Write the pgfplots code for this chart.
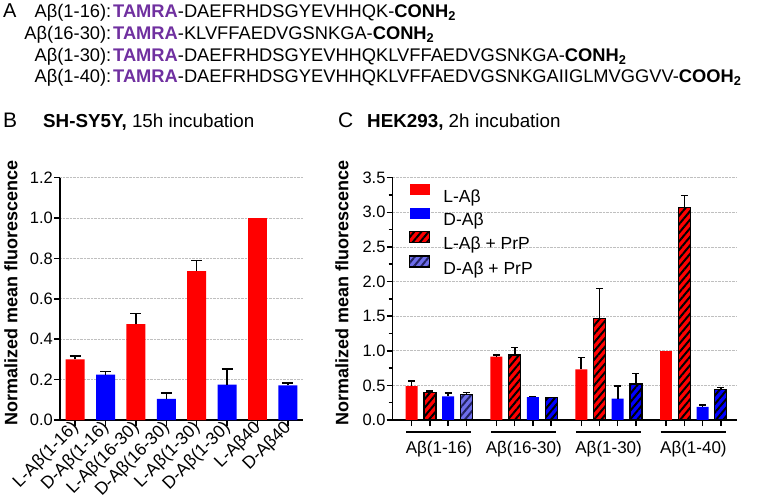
\documentclass[border=0pt]{standalone}
\usepackage{fontspec}
\setmainfont{Liberation Sans}
\usepackage{pgfplots}
\usepackage{pgfplotstable}
\pgfplotsset{compat=1.18}
\usetikzlibrary{patterns.meta}
\definecolor{tamra}{RGB}{112,48,160}
\definecolor{myred}{RGB}{255,0,0}
\definecolor{myblue}{RGB}{0,0,255}
\definecolor{peri}{RGB}{110,110,235}
\definecolor{navy}{RGB}{35,35,100}
\newcommand\fs[1]{\fontsize{#1}{#1}\selectfont}

% Panel B
\pgfplotstableread{
x y e
0 0.300 0.018
2 0.475 0.053
4 0.737 0.053
}\Bred
\pgfplotstableread{
x y
6 1.000
}\Bredn
\pgfplotstableread{
x y e
1 0.225 0.015
3 0.105 0.028
5 0.175 0.077
7 0.172 0.010
}\Bblue

% Panel C
\pgfplotstableread{
x y e
0 0.49 0.07
4.65 0.915 0.025
9.3 0.73 0.17
}\Cred
\pgfplotstableread{
x y
13.95 1.00
}\Credn
\pgfplotstableread{
x y e
2 0.34 0.05
6.65 0.33 0.01
11.3 0.31 0.18
15.95 0.19 0.03
}\Cblue
\pgfplotstableread{
x y e
1 0.40 0.02
5.65 0.94 0.105
10.3 1.47 0.43
14.95 3.07 0.17
}\Credh
\pgfplotstableread{
x y e
3 0.37 0.03
}\Cperi
\pgfplotstableread{
x y e
7.65 0.32 0.006
12.3 0.52 0.155
16.95 0.44 0.03
}\Cblueh

\pgfplotsset{
  panel/.style={
    scale only axis, height=242.3pt,
    axis x line*=bottom, axis y line*=left,
    axis line style={line width=1.5pt},
    tick style={line width=1.5pt, black},
    major tick length=6pt, minor tick length=4pt,
    tick align=outside,
    ymajorgrids, grid style={densely dotted, gray!50, line width=0.8pt},
    ymin=0,
    /pgf/number format/assume math mode=true,
    yticklabel style={font=\fs{16.5}, inner sep=1pt, /pgf/number format/.cd, fixed, fixed zerofill, precision=1},
    error bars/error bar style={line width=1.6pt, black},
    clip=false,
  },
  hatch/.style={draw=black, line width=1.3pt, postaction={pattern={Lines[angle=50,distance=5.5pt,line width=2pt]}, pattern color=#1}},
  patch/.style={legend image code/.code={\path[##1] (0pt,1.5pt) rectangle (20pt,12.5pt);}},
}

\begin{document}
\begin{tikzpicture}[x=1pt,y=1pt]
\useasboundingbox (0,0) rectangle (762,503);

% Panel A text
\node[anchor=base west, inner sep=0, font=\fs{20}] at (3,485) {A};
\begin{scope}[every node/.style={inner sep=0, font=\fs{18.3}}]
\node[anchor=base east] at (111.5,485.5) {Aβ(1-16):};
\node[anchor=base west] at (113,485.5) {\textcolor{tamra}{\textbf{TAMRA}}-DAEFRHDSGYEVHHQK-\textbf{CONH\textsubscript{2}}};
\node[anchor=base east] at (111.5,463.5) {Aβ(16-30):};
\node[anchor=base west] at (113,463.5) {\textcolor{tamra}{\textbf{TAMRA}}-KLVFFAEDVGSNKGA-\textbf{CONH\textsubscript{2}}};
\node[anchor=base east] at (111.5,441.5) {Aβ(1-30):};
\node[anchor=base west] at (113,441.5) {\textcolor{tamra}{\textbf{TAMRA}}-DAEFRHDSGYEVHHQKLVFFAEDVGSNKGA-\textbf{CONH\textsubscript{2}}};
\node[anchor=base east] at (111.5,420.5) {Aβ(1-40):};
\node[anchor=base west] at (113,420.5) {\textcolor{tamra}{\textbf{TAMRA}}-DAEFRHDSGYEVHHQKLVFFAEDVGSNKGAIIGLMVGGVV-\textbf{COOH\textsubscript{2}}};
\end{scope}

% Panel titles
\node[anchor=base west, inner sep=0, font=\fs{21}] at (3,375) {B};
\node[anchor=base west, inner sep=0, font=\fs{18.8}] at (43,375) {\textbf{SH-SY5Y,} 15h incubation};
\node[anchor=base west, inner sep=0, font=\fs{21}] at (338,375) {C};
\node[anchor=base west, inner sep=0, font=\fs{18.8}] at (367,375) {\textbf{HEK293,} 2h incubation};

% y labels
\node[rotate=90, inner sep=0, font=\fs{18}\bfseries] at (11,210) {Normalized mean fluorescence};
\node[rotate=90, inner sep=0, font=\fs{18}\bfseries] at (342,210) {Normalized mean fluorescence};

% Panel B
\begin{axis}[panel,
  at={(60pt,83pt)}, anchor=south west,
  width=243pt,
  xmin=-0.5, xmax=7.5, ymax=1.2,
  ytick={0,0.2,0.4,0.6,0.8,1.0,1.2},
  xtick={0,1,2,3,4,5,6,7},
  xticklabels={L-Aβ(1-16),D-Aβ(1-16),L-Aβ(16-30),D-Aβ(16-30),L-Aβ(1-30),D-Aβ(1-30),L-Aβ40,D-Aβ40},
  xticklabel style={font=\fs{17.5}, rotate=45, anchor=east, inner sep=1pt, xshift=2pt},
  error bars/error mark options={rotate=90, mark size=5.5pt, line width=1.6pt, black},
]
\addplot[ybar, bar width=19pt, bar shift=0pt, fill=myred, draw=none,
  error bars/.cd, y dir=plus, y explicit] table[x=x, y=y, y error=e] {\Bred};
\addplot[ybar, bar width=19pt, bar shift=0pt, fill=myred, draw=none] table[x=x, y=y] {\Bredn};
\addplot[ybar, bar width=19pt, bar shift=0pt, fill=myblue, draw=none,
  error bars/.cd, y dir=plus, y explicit] table[x=x, y=y, y error=e] {\Bblue};
\end{axis}

% Panel C
\begin{axis}[panel,
  at={(392.7pt,83pt)}, anchor=south west,
  width=344.3pt,
  xmin=-1.04, xmax=17.84, ymax=3.5,
  ytick={0,0.5,1.0,1.5,2.0,2.5,3.0,3.5},
  minor y tick num=1,
  xtick={0,1,2,3,4.65,5.65,6.65,7.65,9.3,10.3,11.3,12.3,13.95,14.95,15.95,16.95},
  xticklabels={},
  error bars/error mark options={rotate=90, mark size=3.5pt, line width=1.5pt, black},
  legend style={at={(0.047,0.975)}, anchor=north west, draw=none, fill=none,
    inner sep=0pt, row sep=2pt, font=\fs{17.5},
    /tikz/every odd column/.append style={column sep=11pt}},
  legend cell align=left,
]
\addplot[ybar, bar width=12pt, bar shift=0pt, fill=myred, draw=none, patch,
  error bars/.cd, y dir=plus, y explicit] table[x=x, y=y, y error=e] {\Cred};
\addlegendentry{L-Aβ}
\addplot[ybar, bar width=12pt, bar shift=0pt, fill=myblue, draw=none, patch,
  error bars/.cd, y dir=plus, y explicit] table[x=x, y=y, y error=e] {\Cblue};
\addlegendentry{D-Aβ}
\addplot[ybar, bar width=12pt, bar shift=0pt, fill=myred, hatch=black, patch,
  error bars/.cd, y dir=plus, y explicit] table[x=x, y=y, y error=e] {\Credh};
\addlegendentry{L-Aβ + PrP}
\addplot[ybar, bar width=12pt, bar shift=0pt, fill=peri, hatch=navy, patch,
  error bars/.cd, y dir=plus, y explicit] table[x=x, y=y, y error=e] {\Cperi};
\addlegendentry{D-Aβ + PrP}
\addplot[ybar, bar width=12pt, bar shift=0pt, fill=myblue, hatch=black, forget plot,
  error bars/.cd, y dir=plus, y explicit] table[x=x, y=y, y error=e] {\Cblueh};
\addplot[ybar, bar width=12pt, bar shift=0pt, fill=myred, draw=none, forget plot] table[x=x, y=y] {\Credn};
% group underlines and labels
\draw[line width=1.3pt] ([yshift=-12pt]axis cs:-0.3,0) -- ([yshift=-12pt]axis cs:3.28,0);
\draw[line width=1.3pt] ([yshift=-12pt]axis cs:4.35,0) -- ([yshift=-12pt]axis cs:7.93,0);
\draw[line width=1.3pt] ([yshift=-12pt]axis cs:9.0,0) -- ([yshift=-12pt]axis cs:12.58,0);
\draw[line width=1.3pt] ([yshift=-12pt]axis cs:13.65,0) -- ([yshift=-12pt]axis cs:17.23,0);
\node[anchor=base, inner sep=0, font=\fs{17}] at ([yshift=-33pt]axis cs:1.5,0) {Aβ(1-16)};
\node[anchor=base, inner sep=0, font=\fs{17}] at ([yshift=-33pt]axis cs:6.15,0) {Aβ(16-30)};
\node[anchor=base, inner sep=0, font=\fs{17}] at ([yshift=-33pt]axis cs:10.8,0) {Aβ(1-30)};
\node[anchor=base, inner sep=0, font=\fs{17}] at ([yshift=-33pt]axis cs:15.45,0) {Aβ(1-40)};
\end{axis}
\end{tikzpicture}
\end{document}
